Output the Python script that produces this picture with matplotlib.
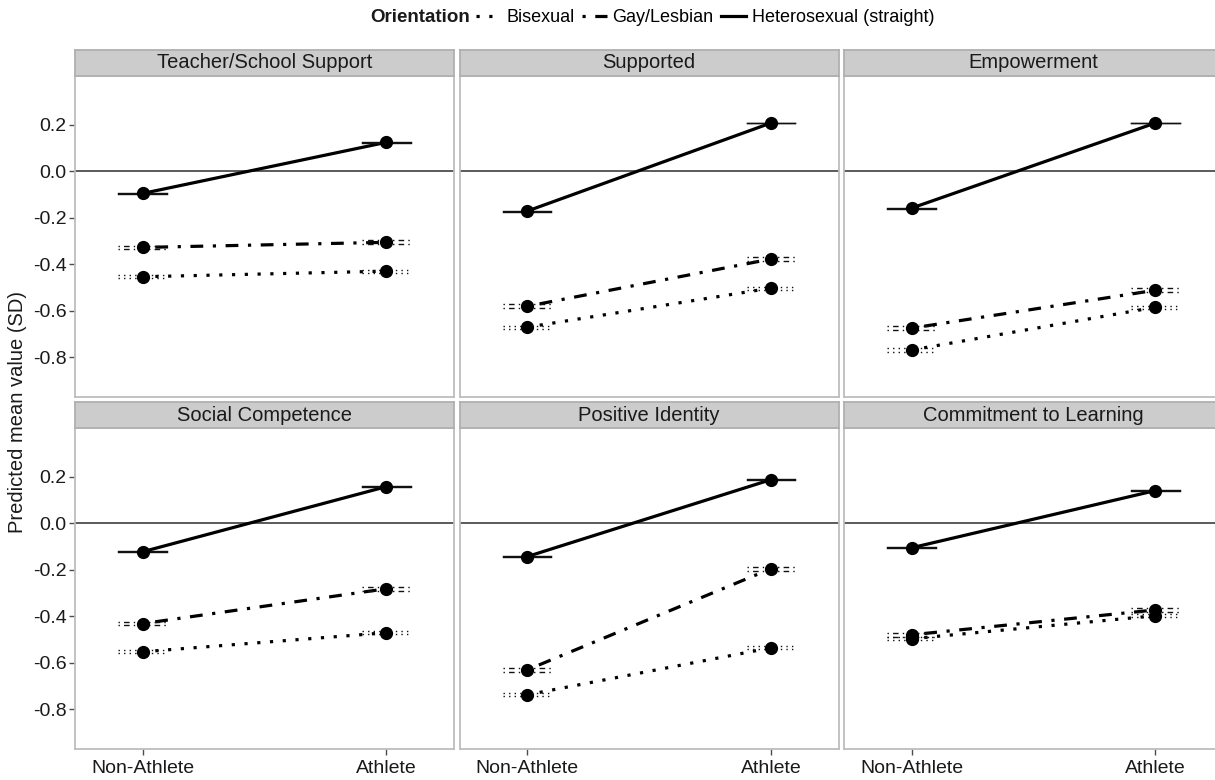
import matplotlib
matplotlib.use('Agg')
import matplotlib.pyplot as plt
from matplotlib.lines import Line2D

plt.rcParams['font.family'] = ['Liberation Sans', 'DejaVu Sans']

panels = ["Teacher/School Support", "Supported", "Empowerment",
          "Social Competence", "Positive Identity", "Commitment to Learning"]
groups = ["Non-Athlete", "Athlete"]
orientations = ["Bisexual", "Gay/Lesbian", "Heterosexual (straight)"]

bisexual = [[-0.453, -0.429], [-0.670, -0.502], [-0.768, -0.584],
            [-0.552, -0.470], [-0.737, -0.535], [-0.496, -0.397]]
gay_lesbian = [[-0.327, -0.305], [-0.580, -0.377], [-0.674, -0.511],
               [-0.431, -0.281], [-0.630, -0.195], [-0.479, -0.372]]
heterosexual = [[-0.095, 0.125], [-0.171, 0.208], [-0.158, 0.208],
                [-0.122, 0.158], [-0.143, 0.188], [-0.105, 0.141]]
# half-widths of the (very narrow) confidence intervals
ci_bisexual = 0.007
ci_gay_lesbian = 0.008
ci_heterosexual = 0.002

y_ticks = [-0.8, -0.6, -0.4, -0.2, 0.0, 0.2]

series = [(bisexual, ci_bisexual, (0, (1, 3))),
          (gay_lesbian, ci_gay_lesbian, (0, (1, 3, 4, 3))),
          (heterosexual, ci_heterosexual, '-')]

W, H = 1215, 780
fig = plt.figure(figsize=(W / 100, H / 100), dpi=100)

pw, gap = 379, 5.5
lefts = [75, 75 + pw + gap, 75 + 2 * (pw + gap)]
tops = [76, 428]
ph = 321
sh = 26
border = '#bdbdbd'

xpos = [1, 2]
for i, name in enumerate(panels):
    r, c = divmod(i, 3)
    l = lefts[c]
    t = tops[r]
    ax = fig.add_axes([l / W, 1 - (t + ph) / H, pw / W, ph / H])
    ax.set_xlim(0.723, 2.277)
    ax.set_ylim(-0.97, 0.41)
    ax.axhline(0, color='#4d4d4d', lw=1.3, zorder=1)
    for vals, ci, ls in series:
        v = vals[i]
        ax.plot(xpos, v, color='black', lw=2.3, linestyle=ls, zorder=2,
                solid_capstyle='butt', dash_capstyle='butt')
        for x, y in zip(xpos, v):
            for yy in (y - ci, y + ci):
                ax.plot([x - 0.1, x + 0.1], [yy, yy], color='#111111', lw=1.0,
                        linestyle=ls, zorder=3)
        ax.plot(xpos, v, linestyle='none', marker='o', ms=8.5, color='black', zorder=4)
    for s in ax.spines.values():
        s.set_color(border)
        s.set_linewidth(1.3)
    ax.set_yticks(y_ticks)
    ax.set_xticks(xpos)
    ax.tick_params(direction='out', length=4, width=1, color='#4d4d4d',
                   labelsize=14, labelcolor='#1a1a1a', pad=2)
    ax.tick_params(axis='x', pad=4)
    if c == 0:
        ax.set_yticklabels([f"{v:.1f}" for v in y_ticks])
    else:
        ax.tick_params(axis='y', length=0)
        ax.set_yticklabels([])
    if r == 1:
        ax.set_xticklabels(groups)
    else:
        ax.tick_params(axis='x', length=0)
        ax.set_xticklabels([])
    # strip
    sax = fig.add_axes([l / W, 1 - t / H, pw / W, sh / H])
    sax.set_xticks([])
    sax.set_yticks([])
    sax.set_facecolor('#cccccc')
    for s in sax.spines.values():
        s.set_color('#b0b0b0')
        s.set_linewidth(1.3)
    sax.text(0.5, 0.5, name, ha='center', va='center', fontsize=14.5,
             color='#1a1a1a', transform=sax.transAxes)

fig.text(18 / W, 1 - 412 / H, "Predicted mean value (SD)", rotation=90,
         ha='center', va='center', fontsize=14.5, color='#1a1a1a')

# legend
title = fig.text(370 / W, 1 - 18 / H, "Orientation", ha='left', va='center',
                 fontsize=13.5, fontweight='bold', color='#1a1a1a')
renderer = fig.canvas.get_renderer()
tb = title.get_window_extent(renderer)
handles = [Line2D([], [], color='black', lw=2.3, linestyle=ls) for _, _, ls in series]
fig.legend(handles, orientations, loc='center left',
           bbox_to_anchor=((tb.x1 + 6) / W, 1 - 18 / H), ncol=3, frameon=False,
           fontsize=13, handlelength=1.4, handletextpad=0.3,
           columnspacing=0.4, borderaxespad=0, borderpad=0)

fig.savefig('out.png', dpi=100)
